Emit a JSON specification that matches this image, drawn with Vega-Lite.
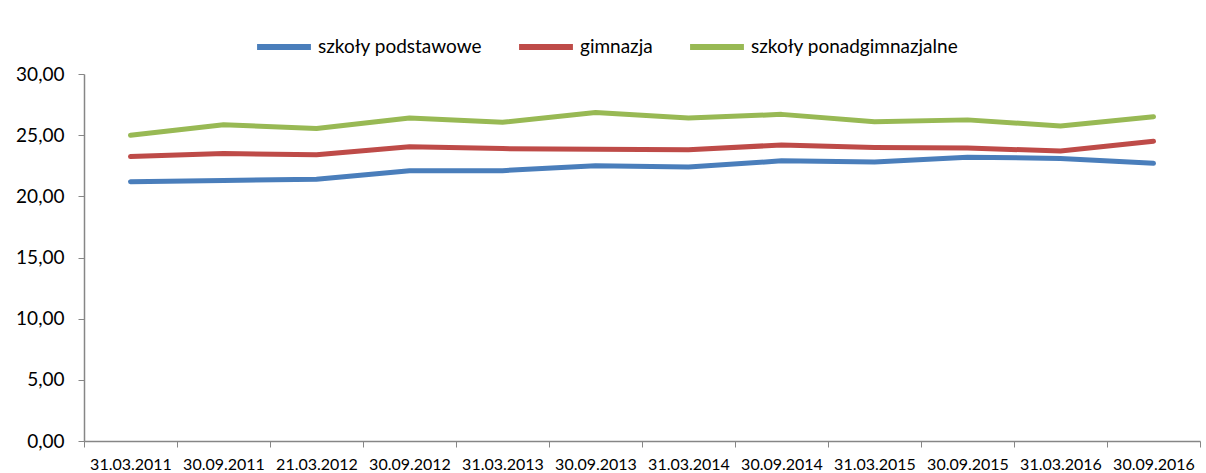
{
  "$schema": "https://vega.github.io/schema/vega-lite/v6.json",
  "autosize": {"type": "none"},
  "width": 1116,
  "height": 367,
  "padding": {"left": 84, "top": 74, "right": 6, "bottom": 32},
  "background": "white",
  "config": {
    "font": "Lato",
    "view": {"stroke": null}
  },
  "data": {
    "values": [
      {"data": "31.03.2011", "typ": "szkoły podstawowe", "v": 21.2},
      {"data": "30.09.2011", "typ": "szkoły podstawowe", "v": 21.3},
      {"data": "21.03.2012", "typ": "szkoły podstawowe", "v": 21.4},
      {"data": "30.09.2012", "typ": "szkoły podstawowe", "v": 22.1},
      {"data": "31.03.2013", "typ": "szkoły podstawowe", "v": 22.1},
      {"data": "30.09.2013", "typ": "szkoły podstawowe", "v": 22.5},
      {"data": "31.03.2014", "typ": "szkoły podstawowe", "v": 22.4},
      {"data": "30.09.2014", "typ": "szkoły podstawowe", "v": 22.9},
      {"data": "31.03.2015", "typ": "szkoły podstawowe", "v": 22.8},
      {"data": "30.09.2015", "typ": "szkoły podstawowe", "v": 23.2},
      {"data": "31.03.2016", "typ": "szkoły podstawowe", "v": 23.1},
      {"data": "30.09.2016", "typ": "szkoły podstawowe", "v": 22.7},
      {"data": "31.03.2011", "typ": "gimnazja", "v": 23.25},
      {"data": "30.09.2011", "typ": "gimnazja", "v": 23.5},
      {"data": "21.03.2012", "typ": "gimnazja", "v": 23.4},
      {"data": "30.09.2012", "typ": "gimnazja", "v": 24.05},
      {"data": "31.03.2013", "typ": "gimnazja", "v": 23.9},
      {"data": "30.09.2013", "typ": "gimnazja", "v": 23.85},
      {"data": "31.03.2014", "typ": "gimnazja", "v": 23.8},
      {"data": "30.09.2014", "typ": "gimnazja", "v": 24.2},
      {"data": "31.03.2015", "typ": "gimnazja", "v": 24.0},
      {"data": "30.09.2015", "typ": "gimnazja", "v": 23.95},
      {"data": "31.03.2016", "typ": "gimnazja", "v": 23.7},
      {"data": "30.09.2016", "typ": "gimnazja", "v": 24.5},
      {"data": "31.03.2011", "typ": "szkoły ponadgimnazjalne", "v": 25.0},
      {"data": "30.09.2011", "typ": "szkoły ponadgimnazjalne", "v": 25.85},
      {"data": "21.03.2012", "typ": "szkoły ponadgimnazjalne", "v": 25.55},
      {"data": "30.09.2012", "typ": "szkoły ponadgimnazjalne", "v": 26.4},
      {"data": "31.03.2013", "typ": "szkoły ponadgimnazjalne", "v": 26.05},
      {"data": "30.09.2013", "typ": "szkoły ponadgimnazjalne", "v": 26.85},
      {"data": "31.03.2014", "typ": "szkoły ponadgimnazjalne", "v": 26.4},
      {"data": "30.09.2014", "typ": "szkoły ponadgimnazjalne", "v": 26.7},
      {"data": "31.03.2015", "typ": "szkoły ponadgimnazjalne", "v": 26.1},
      {"data": "30.09.2015", "typ": "szkoły ponadgimnazjalne", "v": 26.25},
      {"data": "31.03.2016", "typ": "szkoły ponadgimnazjalne", "v": 25.75},
      {"data": "30.09.2016", "typ": "szkoły ponadgimnazjalne", "v": 26.5}
    ]
  },
  "mark": {"type": "line", "strokeWidth": 5, "strokeCap": "round", "strokeJoin": "round"},
  "encoding": {
    "x": {
      "field": "data",
      "type": "ordinal",
      "sort": null,
      "bandPosition": 0.5,
      "scale": {"type": "band", "paddingInner": 0, "paddingOuter": 0},
      "axis": {
        "title": null,
        "labelAngle": 0,
        "labelFont": "Lato",
        "labelFontSize": 16,
        "labelColor": "#000000",
        "labelPadding": 9,
        "tickBand": "extent",
        "tickSize": 6,
        "tickColor": "#868686",
        "domainColor": "#868686",
        "domainWidth": 1.5,
        "grid": false
      }
    },
    "y": {
      "field": "v",
      "type": "quantitative",
      "scale": {"domain": [0, 30], "nice": false},
      "axis": {
        "title": null,
        "values": [0, 5, 10, 15, 20, 25, 30],
        "labelExpr": "replace(format(datum.value, '.2f'), '.', ',')",
        "labelFont": "Lato",
        "labelFontSize": 19,
        "labelColor": "#000000",
        "labelPadding": 14,
        "tickSize": 6,
        "tickColor": "#868686",
        "domainColor": "#868686",
        "domainWidth": 1.5,
        "grid": false
      }
    },
    "color": {
      "field": "typ",
      "type": "nominal",
      "sort": ["szkoły podstawowe", "gimnazja", "szkoły ponadgimnazjalne"],
      "scale": {
        "domain": ["szkoły podstawowe", "gimnazja", "szkoły ponadgimnazjalne"],
        "range": ["#4A7EBB", "#BE4B48", "#98B954"]
      },
      "legend": {
        "title": null,
        "orient": "none",
        "direction": "horizontal",
        "legendX": 170,
        "legendY": -57,
        "symbolType": "stroke",
        "symbolSize": 2900,
        "symbolStrokeWidth": 6,
        "labelFont": "Lato",
        "labelFontSize": 19,
        "labelLimit": 0,
        "labelColor": "#000000",
        "labelOffset": 4,
        "columnPadding": 25
      }
    }
  }
}
